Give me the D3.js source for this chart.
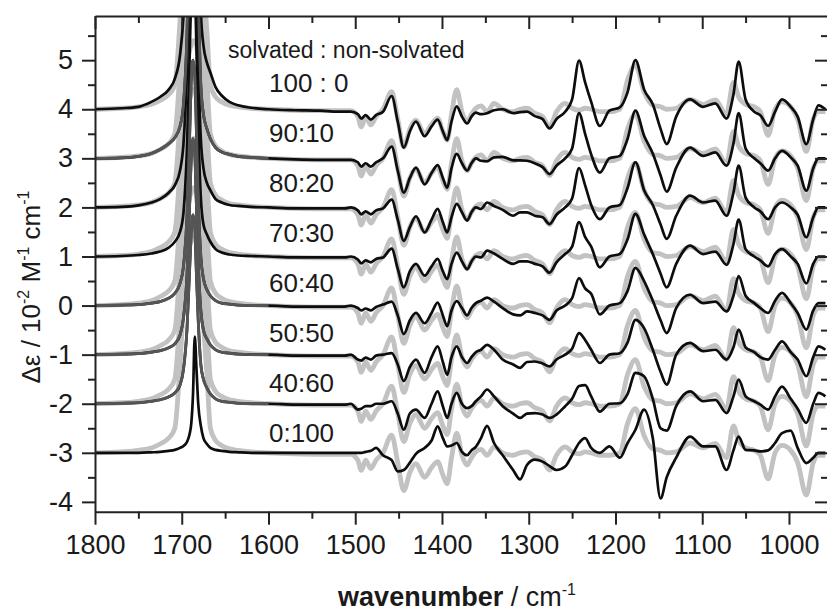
<!DOCTYPE html>
<html>
<head>
<meta charset="utf-8">
<script src="https://cdn.jsdelivr.net/npm/d3@7"></script>
<style>
  body { margin: 0; background: #fff; }
  svg { display: block; }
  text { font-family: "Liberation Sans", Arial, sans-serif; fill: #1a1a1a; }
</style>
</head>
<body>
<svg id="chart" width="827" height="613"></svg>
<script>
// wavenumber grids (cm-1), carbonyl region and fingerprint region
var peakWn = [1800, 1770, 1750, 1735, 1725, 1715, 1708, 1702, 1698, 1694,
              1691, 1689, 1687, 1685, 1683, 1681, 1678, 1675, 1671, 1667,
              1661, 1654, 1645, 1635, 1620, 1600, 1570, 1540, 1520, 1512];
var midWn = [1505, 1497, 1493, 1488, 1482, 1476, 1468, 1458, 1451, 1444,
             1437, 1430, 1420, 1412, 1405, 1399, 1394, 1389, 1383, 1377,
             1371, 1366, 1361, 1355, 1348, 1340, 1330, 1318, 1310, 1302,
             1293, 1284, 1276, 1268, 1258, 1250, 1242, 1235, 1228, 1218,
             1207, 1195, 1186, 1177, 1167, 1157, 1148, 1141, 1130, 1114,
             1099, 1085, 1072, 1064, 1058, 1050, 1040, 1033, 1024, 1016,
             1008, 998, 990, 980, 972, 966, 958];

var ratios = ["100 : 0", "90:10", "80:20", "70:30", "60:40", "50:50", "40:60", "0:100"];
var offsets = [4, 3, 2, 1, 0, -1, -2, -3];
var darkPeak = [false, true, false, false, true, true, true, false];

// experimental spectrum (grey, same under every trace)
var expPeak = [0, 0.02, 0.05, 0.1, 0.18, 0.3, 0.5, 1.8, 3.0, 3.8,
               4.2, 4.3, 4.4, 4.4, 4.3, 4.0, 3.4, 2.6, 1.6, 0.5,
               0.25, 0.15, 0.08, 0.05, 0.02, 0, -0.02, -0.03, -0.03, -0.03];
var expMid = [-0.03, -0.15, -0.36, -0.15, -0.32, -0.15, 0.0, 0.36, -0.2, -0.77,
              -0.4, -0.22, -0.5, -0.3, -0.18, -0.45, -0.63, -0.1, 0.4, -0.05,
              -0.25, -0.1, 0.02, 0.07, -0.05, 0.12, 0.0, -0.05, 0.0, 0.02,
              -0.08, -0.15, -0.35, -0.05, 0.12, 0.02, -0.02, 0.02, 0.0, -0.05,
              -0.05, 0.0, 0.6, 0.9, 0.35, 0.08, 0.05, 0.0, 0.02, 0.2,
              0.1, 0.19, -0.1, 0.55, 0.25, 0.1, 0.05, -0.05, -0.53, 0.0,
              0.15, 0.05, -0.2, -0.86, -0.2, -0.05, -0.05];

// calculated mixture spectra
var peak100 = [0, 0.02, 0.05, 0.15, 0.25, 0.4, 0.62, 1.1, 1.9, 3.6,
               5.8, 7.3, 8.0, 7.6, 6.0, 4.2, 2.0, 1.3, 0.95, 0.75,
               0.45, 0.28, 0.15, 0.08, 0.03, 0, -0.02, -0.03, -0.05, -0.05];
var mid100 = [-0.05, -0.1, -0.19, -0.12, -0.21, -0.12, -0.05, 0.27, -0.25, -0.78,
              -0.45, -0.25, -0.55, -0.35, -0.21, -0.45, -0.63, -0.25, 0.06, -0.15,
              -0.29, -0.15, -0.07, -0.1, -0.08, -0.02, 0.0, -0.08, -0.06, -0.05,
              -0.14, -0.2, -0.39, -0.2, -0.05, 0.2, 0.99, 0.55, 0.15, -0.34,
              -0.03, 0.04, 0.35, 1.0, 0.4, 0.1, -0.4, -0.71, -0.15, 0.2,
              0.05, 0.12, -0.19, 0.3, 0.97, 0.2, -0.05, -0.12, -0.34, -0.05,
              0.2, 0.05, -0.15, -0.71, -0.2, 0.08, 0.0];

var peak90 = [0, 0.01, 0.04, 0.1, 0.18, 0.3, 0.42, 0.65, 1.1, 2.5,
              4.8, 6.6, 7.5, 7.0, 5.2, 3.4, 1.5, 0.9, 0.6, 0.4,
              0.22, 0.13, 0.08, 0.04, 0.02, 0, -0.02, -0.03, -0.03, -0.03];
var mid90 = [-0.03, -0.08, -0.17, -0.1, -0.17, -0.08, 0.0, 0.24, -0.25, -0.7,
             -0.4, -0.19, -0.53, -0.3, -0.14, -0.4, -0.6, -0.2, 0.09, -0.1,
             -0.25, -0.1, 0.0, -0.05, -0.06, 0.02, 0.03, -0.04, -0.04, -0.05,
             -0.1, -0.18, -0.32, -0.15, 0.0, 0.2, 0.92, 0.5, 0.08, -0.29,
             0.0, 0.05, 0.4, 0.97, 0.46, 0.1, -0.35, -0.68, -0.19, 0.22,
             0.05, 0.12, -0.15, 0.3, 0.92, 0.2, 0.0, -0.1, -0.25, 0.0,
             0.15, 0.02, -0.15, -0.66, -0.2, 0.0, 0.0];

var peak80 = [0, 0.01, 0.04, 0.1, 0.17, 0.3, 0.45, 0.75, 1.3, 2.8,
              4.8, 6.3, 7.0, 6.5, 4.8, 3.0, 1.4, 0.8, 0.5, 0.35,
              0.17, 0.1, 0.05, 0.03, 0.01, 0, -0.02, -0.02, -0.02, -0.02];
var mid80 = [0.0, -0.06, -0.14, -0.08, -0.14, -0.06, -0.02, 0.16, -0.25, -0.68,
             -0.4, -0.18, -0.51, -0.25, -0.03, -0.3, -0.51, -0.2, 0.07, -0.1,
             -0.27, -0.1, 0.0, -0.03, 0.1, 0.03, -0.05, -0.17, -0.1, -0.1,
             -0.17, -0.2, -0.34, -0.15, 0.0, 0.18, 0.8, 0.45, 0.05, -0.24,
             0.0, 0.05, 0.4, 0.92, 0.35, 0.05, -0.35, -0.64, -0.17, 0.24,
             0.1, 0.14, -0.17, 0.3, 0.85, 0.2, 0.0, -0.08, -0.24, 0.0,
             0.1, 0.0, -0.15, -0.61, -0.2, 0.0, 0.0];

var peak70 = [0, 0.01, 0.03, 0.06, 0.1, 0.18, 0.3, 0.5, 0.9, 2.2,
              4.0, 5.4, 6.0, 5.6, 4.2, 2.7, 1.2, 0.65, 0.45, 0.3,
              0.15, 0.08, 0.04, 0.02, 0.01, 0, -0.02, -0.02, -0.02, -0.02];
var mid70 = [0.0, -0.06, -0.14, -0.08, -0.12, -0.05, -0.02, 0.16, -0.25, -0.63,
             -0.3, -0.15, -0.39, -0.2, -0.05, -0.3, -0.46, -0.15, 0.08, -0.1,
             -0.26, -0.1, 0.0, -0.02, 0.12, 0.06, -0.05, -0.15, -0.1, -0.1,
             -0.15, -0.2, -0.33, -0.12, 0.05, 0.2, 0.7, 0.4, 0.2, -0.22,
             0.0, 0.05, 0.35, 0.87, 0.45, 0.05, -0.35, -0.63, -0.15, 0.22,
             0.05, 0.1, -0.17, 0.25, 0.75, 0.15, 0.0, -0.08, -0.2, 0.05,
             0.15, 0.0, -0.15, -0.55, -0.15, 0.0, 0.0];

var peak60 = [0, 0.01, 0.02, 0.05, 0.08, 0.15, 0.25, 0.45, 0.8, 1.8,
              3.4, 4.6, 5.0, 4.7, 3.5, 2.2, 1.0, 0.55, 0.32, 0.2,
              0.1, 0.05, 0.03, 0.01, 0, 0, -0.02, -0.02, -0.02, -0.02];
var mid60 = [0.0, -0.05, -0.1, -0.06, -0.1, -0.03, 0.02, 0.08, -0.2, -0.58,
             -0.3, -0.15, -0.36, -0.15, 0.06, -0.2, -0.42, -0.1, 0.09, -0.05,
             -0.2, -0.05, 0.05, 0.1, 0.16, 0.08, -0.05, -0.18, -0.2, -0.12,
             -0.15, -0.2, -0.29, -0.1, 0.0, 0.15, 0.56, 0.35, 0.24, -0.18,
             0.0, 0.05, 0.3, 0.77, 0.5, 0.1, -0.3, -0.56, -0.05, 0.22,
             0.05, 0.08, -0.12, 0.2, 0.6, 0.2, 0.05, -0.05, -0.15, 0.1,
             0.26, 0.05, -0.15, -0.49, -0.1, 0.05, 0.05];

var peak50 = [0, 0.01, 0.02, 0.05, 0.08, 0.14, 0.22, 0.4, 0.75, 1.6,
              3.0, 4.0, 4.4, 4.1, 3.0, 1.9, 0.9, 0.5, 0.32, 0.2,
              0.1, 0.05, 0.03, 0.01, 0, 0, -0.02, -0.02, -0.02, -0.02];
var mid50 = [0.0, -0.1, -0.12, -0.06, -0.1, -0.02, 0.0, 0.03, -0.2, -0.54,
             -0.25, -0.1, -0.37, -0.05, 0.17, -0.15, -0.41, -0.05, 0.17, -0.05,
             -0.17, -0.05, 0.05, 0.1, 0.2, 0.1, -0.1, -0.2, -0.27, -0.15,
             -0.14, -0.18, -0.24, -0.1, 0.0, 0.12, 0.44, 0.3, 0.1, -0.17,
             0.0, 0.03, 0.25, 0.71, 0.54, 0.1, -0.35, -0.61, 0.0, 0.24,
             0.07, 0.1, -0.1, 0.15, 0.51, 0.15, 0.05, -0.05, -0.1, 0.1,
             0.27, 0.05, -0.1, -0.44, -0.05, 0.17, 0.1];

var peak40 = [0, 0.01, 0.02, 0.05, 0.08, 0.14, 0.22, 0.38, 0.7, 1.5,
              2.7, 3.5, 3.85, 3.6, 2.6, 1.7, 0.8, 0.5, 0.32, 0.2,
              0.1, 0.05, 0.03, 0.01, 0, 0, -0.02, -0.02, -0.02, -0.02];
var mid40 = [0.0, -0.12, -0.1, -0.05, -0.05, 0.0, 0.0, 0.05, -0.2, -0.53,
             -0.2, -0.12, -0.29, 0.0, 0.25, -0.05, -0.29, 0.0, 0.22, 0.0,
             -0.09, -0.05, 0.05, 0.15, 0.29, 0.15, -0.05, -0.2, -0.29, -0.2,
             -0.19, -0.22, -0.29, -0.22, -0.05, 0.1, 0.36, 0.38, 0.15, -0.16,
             0.0, 0.01, 0.2, 0.63, 0.56, 0.1, -0.5, -0.55, -0.05, 0.25,
             0.05, 0.08, -0.19, 0.15, 0.49, 0.15, 0.05, -0.02, -0.12, 0.15,
             0.35, 0.1, -0.1, -0.39, 0.0, 0.22, 0.15];

var peak0 = [0, 0, 0, 0.01, 0.02, 0.04, 0.06, 0.1, 0.14, 0.22,
             0.38, 0.6, 1.2, 2.37, 1.7, 1.0, 0.55, 0.3, 0.18, 0.1,
             0.06, 0.04, 0.02, 0.01, 0, 0, 0, 0, 0, 0];
var mid0 = [0.0, 0.0, 0.0, 0.02, 0.04, 0.1, -0.05, -0.15, -0.38, -0.35,
            -0.2, -0.02, 0.1, 0.25, 0.54, 0.3, 0.13, 0.15, 0.2, 0.02,
            -0.05, 0.05, 0.12, 0.3, 0.55, 0.2, -0.05, -0.35, -0.54, -0.25,
            -0.14, -0.18, -0.27, -0.35, -0.28, -0.05, 0.2, 0.3, 0.1, 0.0,
            0.13, -0.1, 0.2, 0.47, 0.88, 0.3, -0.93, -0.5, -0.1, 0.33,
            0.13, 0.13, -0.35, 0.05, 0.33, 0.06, 0.05, 0.03, 0.05, 0.2,
            0.4, 0.45, 0.1, -0.21, -0.1, 0.0, 0.0];

var calcPeaks = [peak100, peak90, peak80, peak70, peak60, peak50, peak40, peak0];
var calcMids = [mid100, mid90, mid80, mid70, mid60, mid50, mid40, mid0];

var xMajor = d3.range(1800, 950, -100),
    xMinor = d3.range(1750, 950, -100),
    yMajor = d3.range(-4, 6),
    yMinor = d3.range(-3.5, 6, 1);

(function() {
  var svg = d3.select('#chart'),
      pLeft = 95, pRight = 828, pTop = 16, pBottom = 511.7;

  var x = d3.scaleLinear().domain([1800, 955]).range([pLeft, pRight]),
      y = d3.scaleLinear().domain([-4.2, 5.9]).range([pBottom, pTop]);

  var allWn = peakWn.concat(midWn);

  function points(vals, offset) {
    return allWn.map(function(w, i) { return { wn: w, v: vals[i] + offset }; });
  }

  var line = d3.line()
    .x(function(d) { return x(d.wn); })
    .y(function(d) { return y(d.v); })
    .curve(d3.curveMonotoneX);

  svg.append('clipPath').attr('id', 'plotclip')
    .append('rect')
    .attr('x', pLeft).attr('y', pTop)
    .attr('width', pRight - pLeft).attr('height', pBottom - pTop);

  var plot = svg.append('g').attr('clip-path', 'url(#plotclip)');

  var expVals = expPeak.concat(expMid);

  // grey experimental traces underneath
  plot.selectAll('path.exp')
    .data(offsets)
    .enter().append('path')
    .attr('class', 'exp')
    .attr('d', function(o) { return line(points(expVals, o)); })
    .attr('fill', 'none')
    .attr('stroke', '#c2c2c2')
    .attr('stroke-width', 4.8)
    .attr('stroke-linejoin', 'round');

  // calculated traces
  plot.selectAll('path.calc')
    .data(offsets)
    .enter().append('path')
    .attr('class', 'calc')
    .attr('d', function(o, i) { return line(points(calcPeaks[i].concat(calcMids[i]), o)); })
    .attr('fill', 'none')
    .attr('stroke', '#0d0d0d')
    .attr('stroke-width', 2.7)
    .attr('stroke-linejoin', 'round');

  // carbonyl band of some traces is drawn in dark grey
  plot.selectAll('path.dark')
    .data(offsets.filter(function(o, i) { return darkPeak[i]; }))
    .enter().append('path')
    .attr('class', 'dark')
    .attr('d', function(o) {
      var i = offsets.indexOf(o);
      var pts = points(calcPeaks[i].concat(calcMids[i]), o).filter(function(d) { return d.wn >= 1600; });
      return line(pts);
    })
    .attr('fill', 'none')
    .attr('stroke', '#555')
    .attr('stroke-width', 2.9)
    .attr('stroke-linejoin', 'round');

  // axes
  function styleAxis(g) {
    g.selectAll('path, line').attr('stroke', '#222').attr('stroke-width', 2);
    g.selectAll('text')
      .style('font-size', '27px')
      .attr('fill', '#1a1a1a');
  }

  var bottomG = svg.append('g').attr('transform', 'translate(0,' + pBottom + ')');
  bottomG.call(d3.axisBottom(x).tickValues(xMajor).tickSizeInner(13).tickSizeOuter(0)
    .tickPadding(10).tickFormat(function(d) { return String(d); }));
  bottomG.append('g').call(d3.axisBottom(x).tickValues(xMinor).tickSize(7).tickFormat(''))
    .select('.domain').remove();
  styleAxis(bottomG);

  var topG = svg.append('g').attr('transform', 'translate(0,' + pTop + ')');
  topG.call(d3.axisTop(x).tickValues(xMajor).tickSizeInner(-13).tickSizeOuter(0).tickFormat(''));
  topG.append('g').call(d3.axisTop(x).tickValues(xMinor).tickSize(-7).tickFormat(''))
    .select('.domain').remove();
  styleAxis(topG);

  var leftG = svg.append('g').attr('transform', 'translate(' + pLeft + ',0)');
  leftG.call(d3.axisLeft(y).tickValues(yMajor).tickSizeInner(13).tickSizeOuter(0)
    .tickPadding(9).tickFormat(function(d) { return String(d); }));
  leftG.append('g').call(d3.axisLeft(y).tickValues(yMinor).tickSize(7).tickFormat(''))
    .select('.domain').remove();
  styleAxis(leftG);

  var rightG = svg.append('g').attr('transform', 'translate(' + pRight + ',0)');
  rightG.call(d3.axisRight(y).tickValues(yMajor).tickSizeInner(-13).tickSizeOuter(0).tickFormat(''));
  rightG.append('g').call(d3.axisRight(y).tickValues(yMinor).tickSize(-7).tickFormat(''))
    .select('.domain').remove();
  styleAxis(rightG);

  // mixture labels
  svg.append('text')
    .attr('x', 228).attr('y', 58)
    .style('font-size', '23px')
    .text('solvated : non-solvated');

  svg.selectAll('text.ratio')
    .data(ratios)
    .enter().append('text')
    .attr('class', 'ratio')
    .attr('x', 269)
    .attr('y', function(r, i) { return y(offsets[i]) - 17.5 + i * 0.9; })
    .style('font-size', '26px')
    .text(function(r) { return r; });

  // axis titles
  var xt = svg.append('text')
    .attr('x', 457).attr('y', 606)
    .attr('text-anchor', 'middle')
    .style('font-size', '27px');
  xt.append('tspan').attr('font-weight', 'bold').text('wavenumber');
  xt.append('tspan').text(' / cm');
  xt.append('tspan').attr('dy', -11).style('font-size', '16px').text('-1');

  var yt = svg.append('text')
    .attr('transform', 'translate(40,287) rotate(-90)')
    .attr('text-anchor', 'middle')
    .style('font-size', '26px');
  yt.append('tspan').text('\u0394\u03b5 / 10');
  yt.append('tspan').attr('dy', -11).style('font-size', '16px').text('-2');
  yt.append('tspan').attr('dy', 11).text(' M');
  yt.append('tspan').attr('dy', -11).style('font-size', '16px').text('-1');
  yt.append('tspan').attr('dy', 11).text(' cm');
  yt.append('tspan').attr('dy', -11).style('font-size', '16px').text('-1');
})();
</script>
</body>
</html>
